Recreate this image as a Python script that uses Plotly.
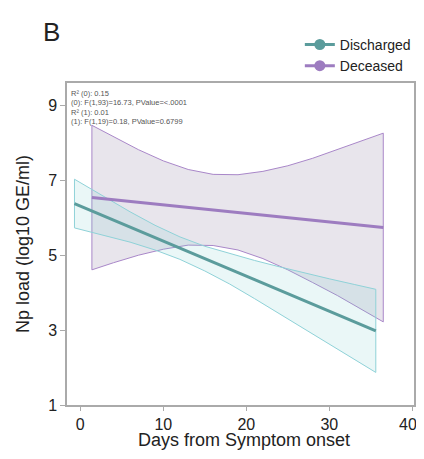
import plotly.graph_objects as go

# Discharged (group 0) regression fit and 95% band
dis_x = [-0.7, 3, 6, 9, 12, 15, 18, 21, 24, 27, 30, 33, 35.6]
dis_mean = [6.38, 6.03, 5.75, 5.47, 5.19, 4.91, 4.63, 4.35, 4.07, 3.78, 3.50, 3.22, 2.98]
dis_upper = [7.03, 6.54, 6.16, 5.80, 5.49, 5.24, 5.04, 4.86, 4.69, 4.52, 4.37, 4.22, 4.09]
dis_lower = [5.73, 5.52, 5.35, 5.14, 4.89, 4.58, 4.23, 3.84, 3.45, 3.04, 2.63, 2.22, 1.87]

# Deceased (group 1)
dec_x = [1.4, 4, 7, 10, 13, 16, 19, 22, 25, 28, 31, 34, 36.5]
dec_mean = [6.54, 6.48, 6.41, 6.34, 6.28, 6.21, 6.14, 6.07, 6.00, 5.93, 5.87, 5.80, 5.74]
dec_upper = [8.47, 8.16, 7.82, 7.52, 7.29, 7.16, 7.15, 7.24, 7.39, 7.59, 7.82, 8.06, 8.26]
dec_lower = [4.61, 4.80, 5.00, 5.16, 5.27, 5.26, 5.14, 4.91, 4.61, 4.27, 3.92, 3.54, 3.22]

x_ticks = [0, 10, 20, 30, 40]
x_tick_labels = ["0", "10", "20", "30", "40\u00a0\u00a0"]
y_ticks = [1, 3, 5, 7, 9]
stats_lines = ["R² (0): 0.15",
               "(0): F(1,93)=16.73, PValue=<.0001",
               "R² (1): 0.01",
               "(1): F(1,19)=0.18, PValue=0.6799"]

FONT = "Liberation Sans, Arial, sans-serif"
TEAL = "#5b9c9c"
TEAL_EDGE = "#8fd2d8"
PURPLE = "#9d7cc0"
PURPLE_EDGE = "#a987c9"

fig = go.Figure()

# Deceased band (behind)
fig.add_trace(go.Scatter(
    x=dec_x + dec_x[::-1] + [dec_x[0]],
    y=dec_upper + dec_lower[::-1] + [dec_upper[0]],
    mode="lines", fill="toself", fillcolor="rgb(232,229,236)",
    line=dict(color=PURPLE_EDGE, width=1), showlegend=False, hoverinfo="skip"))

# Discharged band (semi-transparent over)
fig.add_trace(go.Scatter(
    x=dis_x + dis_x[::-1] + [dis_x[0]],
    y=dis_upper + dis_lower[::-1] + [dis_upper[0]],
    mode="lines", fill="toself", fillcolor="rgba(125,205,205,0.16)",
    line=dict(color=TEAL_EDGE, width=1), showlegend=False, hoverinfo="skip"))

fig.add_trace(go.Scatter(x=dec_x, y=dec_mean, mode="lines",
                         line=dict(color=PURPLE, width=3), showlegend=False))
fig.add_trace(go.Scatter(x=dis_x, y=dis_mean, mode="lines",
                         line=dict(color=TEAL, width=3), showlegend=False))

# Legend entries
fig.add_trace(go.Scatter(x=[None], y=[None], mode="lines+markers", name="Discharged",
                         line=dict(color=TEAL, width=3), marker=dict(color=TEAL, size=11)))
fig.add_trace(go.Scatter(x=[None], y=[None], mode="lines+markers", name="Deceased",
                         line=dict(color=PURPLE, width=3), marker=dict(color=PURPLE, size=11)))

for i, t in enumerate(stats_lines):
    fig.add_annotation(x=0, y=1 - 0.012 - i * 0.0295, xref="paper", yref="paper",
                       text=t, showarrow=False, xanchor="left", yanchor="top",
                       xshift=2, font=dict(size=7.5, color="#555555", family=FONT))

fig.add_annotation(x=-0.075, y=1.158, xref="paper", yref="paper", text="B",
                   showarrow=False, xanchor="left", yanchor="middle",
                   font=dict(size=26, color="#222222", family=FONT))

# x-axis title
fig.add_annotation(x=0.509, y=-0.11, xref="paper", yref="paper",
                   text="Days from Symptom onset", showarrow=False,
                   xanchor="center", yanchor="middle",
                   font=dict(size=18, color="#222222", family=FONT))

fig.update_layout(
    width=416, height=443,
    margin=dict(l=59, r=10, t=75, b=46, autoexpand=False),
    plot_bgcolor="white", paper_bgcolor="white",
    font=dict(family=FONT, color="#222222"),
    legend=dict(x=0.671, y=1.168, xanchor="left", yanchor="top",
                font=dict(size=14, family=FONT), bgcolor="rgba(0,0,0,0)",
                tracegroupgap=0, itemwidth=30),
    xaxis=dict(range=[-1.6, 40.2], tickvals=x_ticks, ticktext=x_tick_labels,
               showgrid=False, zeroline=False, ticklabeloverflow="allow",
               showline=True, linecolor="#aaaaaa", linewidth=1.5, mirror=True,
               ticks="outside", ticklen=4, tickcolor="#aaaaaa", automargin=False,
               tickfont=dict(size=16)),
    yaxis=dict(range=[1, 9.6], tickvals=y_ticks, showgrid=False, zeroline=False,
               showline=True, linecolor="#aaaaaa", linewidth=1.5, mirror=True,
               ticks="outside", ticklen=5, tickcolor="#aaaaaa", automargin=False,
               tickfont=dict(size=16), title=dict(text="Np load (log10 GE/ml)",
               font=dict(size=18), standoff=14)),
)

fig.write_html("out.html")
